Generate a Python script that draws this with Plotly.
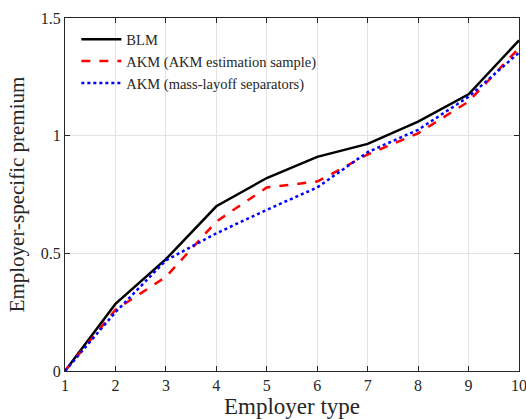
import plotly.graph_objects as go

employer_type = [1, 2, 3, 4, 5, 6, 7, 8, 9, 10]
blm = [0, 0.285, 0.475, 0.70, 0.82, 0.91, 0.965, 1.06, 1.176, 1.405]
akm_est = [0, 0.26, 0.40, 0.635, 0.78, 0.805, 0.92, 1.01, 1.145, 1.372]
akm_ml = [0, 0.25, 0.47, 0.585, 0.685, 0.78, 0.93, 1.025, 1.165, 1.353]

x_ticks = [1, 2, 3, 4, 5, 6, 7, 8, 9, 10]
x_tick_text = ["1", "2", "3", "4", "5", "6", "7", "8", "9", "10"]
y_ticks = [0, 0.5, 1, 1.5]
y_tick_text = ["0", "0.5", "1", "1.5"]

FONT = "Liberation Serif"
TXT = "#262626"

fig = go.Figure()
fig.add_trace(go.Scatter(x=employer_type, y=blm, mode="lines", name="BLM",
                         line=dict(color="black", width=2.5)))
fig.add_trace(go.Scatter(x=employer_type, y=akm_est, mode="lines",
                         name="AKM (AKM estimation sample)",
                         line=dict(color="#ff0000", width=2.5, dash="dash")))
fig.add_trace(go.Scatter(x=employer_type, y=akm_ml, mode="lines",
                         name="AKM (mass-layoff separators)",
                         line=dict(color="#0000ff", width=2.5, dash="dot")))

axis_common = dict(showline=True, linecolor=TXT, linewidth=1, mirror="ticks",
                   ticks="inside", ticklen=5, tickcolor=TXT,
                   showgrid=True, gridcolor="#e3e3e3", gridwidth=1,
                   zeroline=False, automargin=False,
                   tickfont=dict(family=FONT, size=16, color=TXT))

# the last x tick label overflows the page edge; draw it as an annotation
shown_x_text = [t if v != x_ticks[-1] else "" for v, t in zip(x_ticks, x_tick_text)]

fig.update_layout(
    width=526, height=419,
    margin=dict(l=65, r=7, t=18, b=48),
    paper_bgcolor="white", plot_bgcolor="white",
    font=dict(family=FONT, color=TXT),
    xaxis=dict(range=[1, 10], tickvals=x_ticks, ticktext=shown_x_text,
               title=dict(text="Employer type", font=dict(family=FONT, size=23), standoff=10),
               **axis_common),
    yaxis=dict(range=[0, 1.5], tickvals=y_ticks, ticktext=y_tick_text,
               title=dict(text="Employer-specific premium", font=dict(family=FONT, size=21), standoff=10),
               **axis_common),
    legend=dict(x=0.025, y=0.985, xanchor="left", yanchor="top",
                bgcolor="rgba(255,255,255,0)", borderwidth=0,
                font=dict(family=FONT, size=14.5, color=TXT),
                tracegroupgap=0, itemwidth=40),
    showlegend=True,
    annotations=[dict(x=x_ticks[-1], y=0, xref="x", yref="paper", text=x_tick_text[-1],
                      showarrow=False, xanchor="center", yanchor="top", yshift=-4,
                      font=dict(family=FONT, size=16, color=TXT))],
)

fig.write_html("out.html")
